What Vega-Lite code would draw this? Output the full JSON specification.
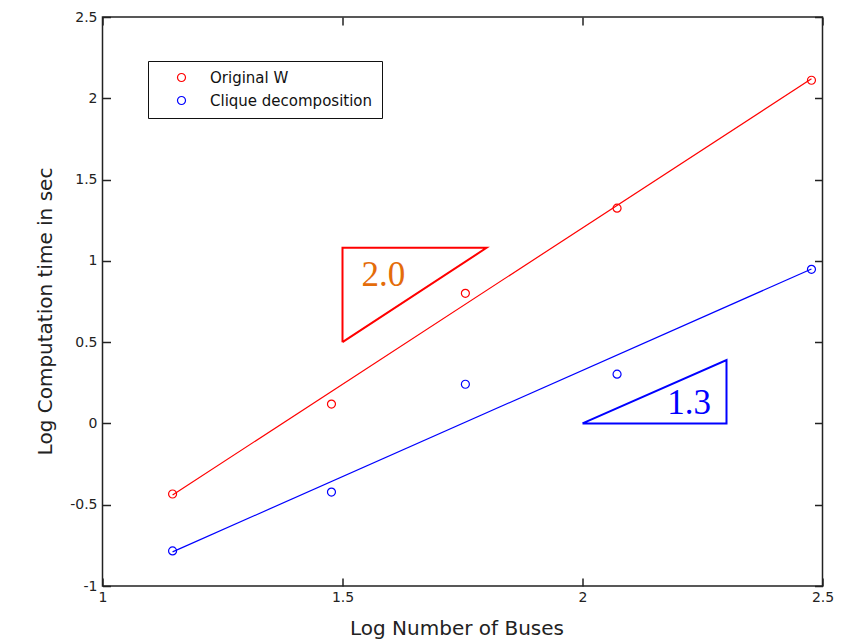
{
  "$schema": "https://vega.github.io/schema/vega-lite/v6.json",
  "width": 720,
  "height": 569,
  "autosize": {"type": "none"},
  "padding": {"left": 102.5, "top": 17, "right": 30.5, "bottom": 56},
  "background": "white",
  "config": {
    "view": {"stroke": "#222222", "strokeWidth": 1.5},
    "font": "DejaVu Sans",
    "axis": {
      "grid": false,
      "domain": false,
      "tickSize": -8,
      "tickColor": "#222222",
      "tickWidth": 1.5,
      "labelFont": "DejaVu Sans",
      "labelFontSize": 14,
      "labelColor": "#222222",
      "labelFlush": false,
      "labelOverlap": false,
      "titleFont": "DejaVu Sans",
      "titleFontSize": 20,
      "titleFontWeight": "normal",
      "titleColor": "#222222"
    }
  },
  "datasets": {
    "pts": [
      {"x": 1.146, "y": -0.434, "series": "Original W"},
      {"x": 1.477, "y": 0.119, "series": "Original W"},
      {"x": 1.756, "y": 0.8, "series": "Original W"},
      {"x": 2.072, "y": 1.324, "series": "Original W"},
      {"x": 2.477, "y": 2.111, "series": "Original W"},
      {"x": 1.146, "y": -0.784, "series": "Clique decomposition"},
      {"x": 1.477, "y": -0.422, "series": "Clique decomposition"},
      {"x": 1.756, "y": 0.241, "series": "Clique decomposition"},
      {"x": 2.072, "y": 0.303, "series": "Clique decomposition"},
      {"x": 2.477, "y": 0.948, "series": "Clique decomposition"}
    ],
    "fits": [
      {"x": 1.146, "y": -0.44, "fit": "W", "o": 1},
      {"x": 2.477, "y": 2.12, "fit": "W", "o": 2},
      {"x": 1.146, "y": -0.79, "fit": "C", "o": 1},
      {"x": 2.477, "y": 0.95, "fit": "C", "o": 2}
    ],
    "tris": [
      {"x": 1.5, "y": 0.5, "tri": "slope 2.0", "o": 1},
      {"x": 1.5, "y": 1.08, "tri": "slope 2.0", "o": 2},
      {"x": 1.8, "y": 1.08, "tri": "slope 2.0", "o": 3},
      {"x": 1.5, "y": 0.5, "tri": "slope 2.0", "o": 4},
      {"x": 2.0, "y": 0.0, "tri": "slope 1.3", "o": 1},
      {"x": 2.3, "y": 0.0, "tri": "slope 1.3", "o": 2},
      {"x": 2.3, "y": 0.39, "tri": "slope 1.3", "o": 3},
      {"x": 2.0, "y": 0.0, "tri": "slope 1.3", "o": 4}
    ],
    "labels": [
      {"x": 1.585, "y": 0.843, "label": "2.0"},
      {"x": 2.222, "y": 0.057, "label": "1.3"}
    ]
  },
  "layer": [
    {
      "data": {"name": "fits"},
      "mark": {"type": "line", "strokeWidth": 1.2},
      "encoding": {
        "x": {
          "field": "x", "type": "quantitative",
          "scale": {"domain": [1, 2.5], "nice": false, "zero": false},
          "axis": {"orient": "bottom", "title": "Log Number of Buses", "values": [1, 1.5, 2, 2.5], "labelExpr": "'' + datum.value", "labelPadding": 12, "titlePadding": 14, "titleX": 354}
        },
        "y": {
          "field": "y", "type": "quantitative",
          "scale": {"domain": [-1, 2.5], "nice": false, "zero": false},
          "axis": {"orient": "left", "title": "Log Computation time in sec", "values": [-1, -0.5, 0, 0.5, 1, 1.5, 2, 2.5], "labelExpr": "'' + datum.value", "labelPadding": 13.5, "titlePadding": 14, "titleY": 294}
        },
        "stroke": {"field": "fit", "type": "nominal", "scale": {"domain": ["W", "C"], "range": ["#ff0000", "#0000ff"]}, "legend": null},
        "detail": {"field": "fit"},
        "order": {"field": "o", "type": "quantitative"}
      }
    },
    {
      "data": {"name": "tris"},
      "mark": {"type": "line", "strokeWidth": 2},
      "encoding": {
        "x": {"field": "x", "type": "quantitative", "scale": {"domain": [1, 2.5], "nice": false, "zero": false}, "axis": null},
        "y": {"field": "y", "type": "quantitative", "scale": {"domain": [-1, 2.5], "nice": false, "zero": false}, "axis": null},
        "stroke": {"field": "tri", "type": "nominal", "scale": {"domain": ["slope 2.0", "slope 1.3"], "range": ["#ff0000", "#0000ff"]}, "legend": null},
        "detail": {"field": "tri"},
        "order": {"field": "o", "type": "quantitative"}
      }
    },
    {
      "data": {"name": "pts"},
      "mark": {"type": "point", "filled": false, "shape": "circle", "size": 64, "strokeWidth": 1.2, "opacity": 1},
      "encoding": {
        "x": {
          "field": "x", "type": "quantitative",
          "scale": {"domain": [1, 2.5], "nice": false, "zero": false},
          "axis": {"orient": "top", "labels": false, "title": null, "values": [1, 1.5, 2, 2.5]}
        },
        "y": {
          "field": "y", "type": "quantitative",
          "scale": {"domain": [-1, 2.5], "nice": false, "zero": false},
          "axis": {"orient": "right", "labels": false, "title": null, "values": [-1, -0.5, 0, 0.5, 1, 1.5, 2, 2.5]}
        },
        "color": {
          "field": "series", "type": "nominal",
          "scale": {"domain": ["Original W", "Clique decomposition"], "range": ["#ff0000", "#0000ff"]},
          "legend": {
            "title": null,
            "orient": "none",
            "legendX": 45.5,
            "legendY": 44,
            "strokeColor": "#111111",
            "fillColor": "white",
            "padding": 9,
            "rowPadding": 7,
            "symbolType": "circle",
            "symbolSize": 64,
            "symbolStrokeWidth": 1.2,
            "symbolOffset": 17,
            "labelOffset": 21,
            "labelLimit": 300,
            "labelFont": "DejaVu Sans",
            "labelFontSize": 15,
            "labelColor": "#111111"
          }
        }
      }
    },
    {
      "data": {"name": "labels"},
      "mark": {"type": "text", "font": "Liberation Serif", "fontSize": 35, "align": "center", "baseline": "alphabetic"},
      "encoding": {
        "x": {"field": "x", "type": "quantitative", "scale": {"domain": [1, 2.5], "nice": false, "zero": false}, "axis": null},
        "y": {"field": "y", "type": "quantitative", "scale": {"domain": [-1, 2.5], "nice": false, "zero": false}, "axis": null},
        "text": {"field": "label"},
        "fill": {"field": "label", "type": "nominal", "scale": {"domain": ["2.0", "1.3"], "range": ["#e46c0a", "#0000ff"]}, "legend": null}
      }
    }
  ],
  "resolve": {"axis": {"x": "independent", "y": "independent"}}
}
